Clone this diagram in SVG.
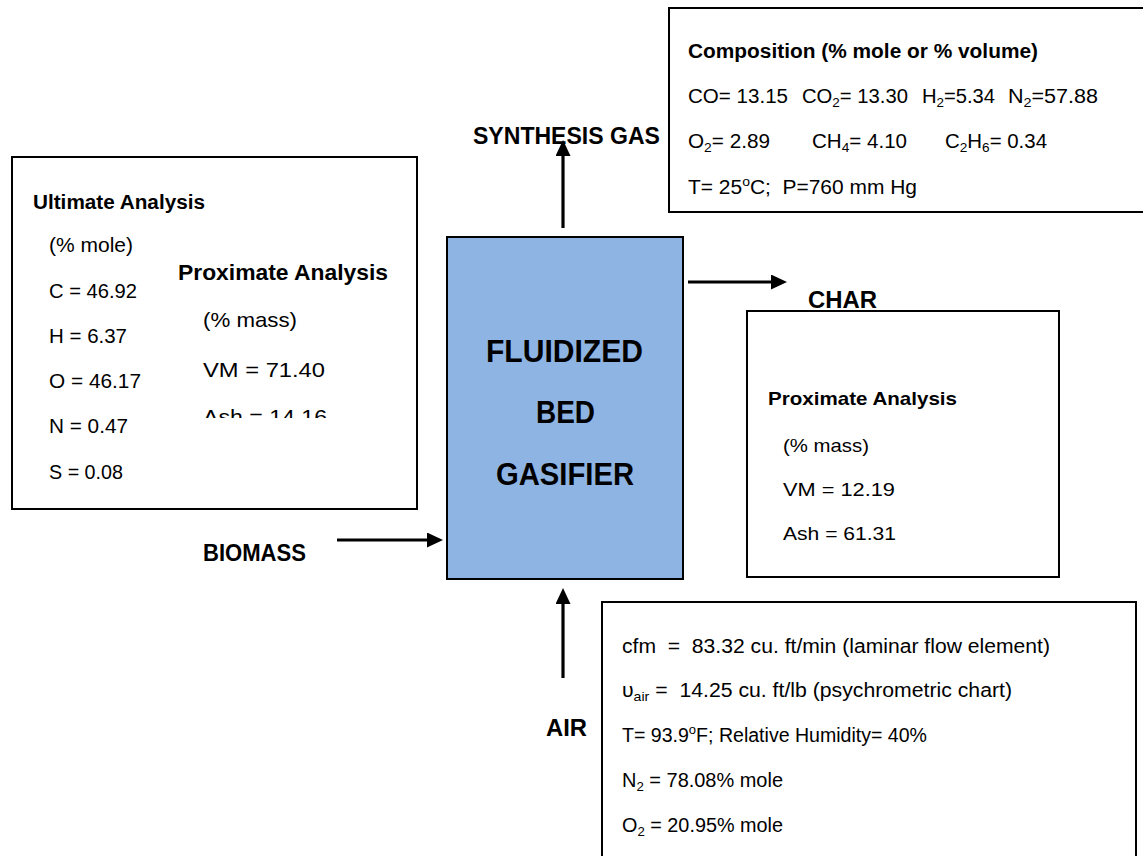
<svg xmlns="http://www.w3.org/2000/svg" width="1143" height="856" viewBox="0 0 1143 856">
<style>
text { font-family: "Liberation Sans", Arial, sans-serif; fill: #000; }
.b { font-weight: bold; }
.t { font-size: 19.5px; }
.s { font-size: 18.5px; }
.box { fill: #fff; stroke: #000; stroke-width: 2; }
.lbl { font-size: 23.5px; font-weight: bold; }
.big { font-size: 30.5px; font-weight: bold; }
.conn { stroke: #000; stroke-width: 3.2; fill: none; marker-end: url(#ah); }
</style>
<defs>
<marker id="ah" markerUnits="userSpaceOnUse" markerWidth="16" markerHeight="15" refX="8" refY="7.5" orient="auto">
<path d="M0,0 L16,7.5 L0,15 z" fill="#000"/>
</marker>
<clipPath id="clipAsh"><rect x="150" y="150" width="260" height="268"/></clipPath>
</defs>

<g id="gasifier">
<rect x="447" y="237" width="236" height="342" fill="#8EB4E3" stroke="#000" stroke-width="2"/>
<text class="big" x="486" y="362" textLength="157" lengthAdjust="spacingAndGlyphs">FLUIDIZED</text>
<text class="big" x="536" y="423" textLength="59" lengthAdjust="spacingAndGlyphs">BED</text>
<text class="big" x="496" y="485" textLength="138" lengthAdjust="spacingAndGlyphs">GASIFIER</text>
</g>

<g id="connectors">
<line class="conn" x1="563" y1="228" x2="563" y2="148"/>
<line class="conn" x1="688" y1="282" x2="779" y2="282"/>
<line class="conn" x1="337" y1="540" x2="435" y2="540"/>
<line class="conn" x1="563" y1="678" x2="563" y2="596"/>
</g>

<g id="label-syngas">
<text class="lbl" x="473" y="144" textLength="187" lengthAdjust="spacingAndGlyphs">SYNTHESIS GAS</text>
</g>
<g id="label-char">
<text class="lbl" x="808" y="308" textLength="69" lengthAdjust="spacingAndGlyphs">CHAR</text>
</g>
<g id="label-biomass">
<text class="lbl" x="203" y="561" textLength="103" lengthAdjust="spacingAndGlyphs">BIOMASS</text>
</g>
<g id="label-air">
<text class="lbl" x="546" y="736" textLength="41" lengthAdjust="spacingAndGlyphs">AIR</text>
</g>

<g id="syngas-composition">
<rect class="box" x="669" y="8" width="480" height="204"/>
<text class="t b" x="688" y="58" font-size="20" textLength="350" lengthAdjust="spacingAndGlyphs">Composition (% mole or % volume)</text>
<text class="t" x="688" y="103" textLength="100" lengthAdjust="spacingAndGlyphs">CO= 13.15</text>
<text class="t" x="802" y="103" textLength="106" lengthAdjust="spacingAndGlyphs">CO<tspan font-size="13" dy="4">2</tspan><tspan dy="-4">= 13.30</tspan></text>
<text class="t" x="922" y="103" textLength="73" lengthAdjust="spacingAndGlyphs">H<tspan font-size="13" dy="4">2</tspan><tspan dy="-4">=5.34</tspan></text>
<text class="t" x="1008" y="103" textLength="90" lengthAdjust="spacingAndGlyphs">N<tspan font-size="13" dy="4">2</tspan><tspan dy="-4">=57.88</tspan></text>
<text class="t" x="688" y="148" textLength="82" lengthAdjust="spacingAndGlyphs">O<tspan font-size="13" dy="4">2</tspan><tspan dy="-4">= 2.89</tspan></text>
<text class="t" x="812" y="148" textLength="95" lengthAdjust="spacingAndGlyphs">CH<tspan font-size="13" dy="4">4</tspan><tspan dy="-4">= 4.10</tspan></text>
<text class="t" x="945" y="148" textLength="102" lengthAdjust="spacingAndGlyphs">C<tspan font-size="13" dy="4">2</tspan><tspan dy="-4">H</tspan><tspan font-size="13" dy="4">6</tspan><tspan dy="-4">= 0.34</tspan></text>
<text class="t" x="688" y="194" textLength="229" lengthAdjust="spacingAndGlyphs" xml:space="preserve">T= 25<tspan font-size="13" dy="-8">o</tspan><tspan dy="8">C;  P=760 mm Hg</tspan></text>
</g>

<g id="biomass-analysis">
<rect class="box" x="12" y="157" width="405" height="352"/>
<text class="t b" x="33" y="209" textLength="172" lengthAdjust="spacingAndGlyphs">Ultimate Analysis</text>
<text class="t" x="49" y="252" textLength="84" lengthAdjust="spacingAndGlyphs">(% mole)</text>
<text class="t" x="49" y="298" textLength="88" lengthAdjust="spacingAndGlyphs">C = 46.92</text>
<text class="t" x="49" y="343" textLength="78" lengthAdjust="spacingAndGlyphs">H = 6.37</text>
<text class="t" x="49" y="388" textLength="92" lengthAdjust="spacingAndGlyphs">O = 46.17</text>
<text class="t" x="49" y="433" textLength="79" lengthAdjust="spacingAndGlyphs">N = 0.47</text>
<text class="t" x="49" y="479" textLength="74" lengthAdjust="spacingAndGlyphs">S = 0.08</text>
<text class="b" font-size="22" x="178" y="280" textLength="210" lengthAdjust="spacingAndGlyphs">Proximate Analysis</text>
<text font-size="21" x="203" y="327" textLength="94" lengthAdjust="spacingAndGlyphs">(% mass)</text>
<text font-size="21" x="203" y="377" textLength="122" lengthAdjust="spacingAndGlyphs">VM = 71.40</text>
<text font-size="21" x="203" y="424" textLength="124" lengthAdjust="spacingAndGlyphs" clip-path="url(#clipAsh)">Ash = 14.16</text>
</g>

<g id="char-analysis">
<rect class="box" x="747" y="311" width="312" height="266"/>
<text class="s b" x="768" y="405" textLength="189" lengthAdjust="spacingAndGlyphs">Proximate Analysis</text>
<text class="s" x="783" y="452" textLength="86" lengthAdjust="spacingAndGlyphs">(% mass)</text>
<text class="s" x="783" y="496" textLength="112" lengthAdjust="spacingAndGlyphs">VM = 12.19</text>
<text class="s" x="783" y="540" textLength="113" lengthAdjust="spacingAndGlyphs">Ash = 61.31</text>
</g>

<g id="air-properties">
<rect class="box" x="602" y="602" width="534" height="270"/>
<text class="t" x="622" y="653" textLength="428" lengthAdjust="spacingAndGlyphs" xml:space="preserve">cfm  =  83.32 cu. ft/min (laminar flow element)</text>
<text class="t" x="622" y="697" textLength="390" lengthAdjust="spacingAndGlyphs" xml:space="preserve">υ<tspan font-size="13" dy="4">air</tspan><tspan dy="-4"> =  14.25 cu. ft/lb (psychrometric chart)</tspan></text>
<text class="t" x="622" y="742" textLength="305" lengthAdjust="spacingAndGlyphs">T= 93.9<tspan font-size="13" dy="-8">o</tspan><tspan dy="8">F; Relative Humidity= 40%</tspan></text>
<text class="t" x="622" y="787" textLength="161" lengthAdjust="spacingAndGlyphs">N<tspan font-size="13" dy="4">2</tspan><tspan dy="-4"> = 78.08% mole</tspan></text>
<text class="t" x="622" y="832" textLength="161" lengthAdjust="spacingAndGlyphs">O<tspan font-size="13" dy="4">2</tspan><tspan dy="-4"> = 20.95% mole</tspan></text>
</g>
</svg>
